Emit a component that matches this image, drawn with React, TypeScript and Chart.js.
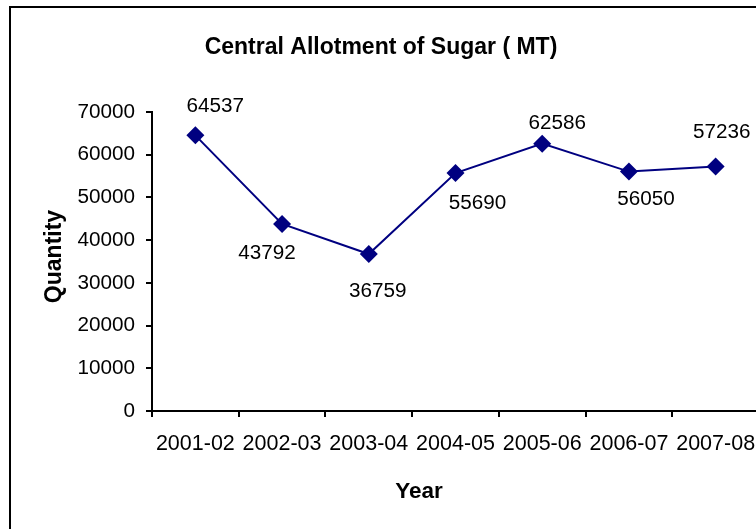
import React, { useEffect, useRef } from 'react';
import { Chart, registerables } from 'chart.js';

Chart.register(...registerables);

const categories = ['2001-02', '2002-03', '2003-04', '2004-05', '2005-06', '2006-07', '2007-08'];
const quantities = [64537, 43792, 36759, 55690, 62586, 56050, 57236];
const yMin = 0;
const yMax = 70000;
const yStep = 10000;
const chartTitle = 'Central Allotment of Sugar ( MT)';
const xTitle = 'Year';
const yTitle = 'Quantity';
// label placement offsets (pixels from the point)
const labelDx = [20, -15, 9, 22, 15, 17, 6];
const labelDy = [-31, 28, 36, 28.5, -22, 26, -36];

const FONT = '"Liberation Sans", Arial, sans-serif';
const NAVY = '#000080';
const NUM_SIZE = 20.7;

const textPlugin = {
  id: 'texts',
  afterDraw(chart: any) {
    const ctx = chart.ctx;
    ctx.save();
    ctx.fillStyle = '#000';
    ctx.textAlign = 'center';
    ctx.textBaseline = 'alphabetic';
    ctx.font = `bold 23px ${FONT}`;
    ctx.fillText(chartTitle, 381, 54);
    ctx.font = `bold 22.5px ${FONT}`;
    ctx.fillText(xTitle, 419, 498);
    ctx.save();
    ctx.font = `bold 23px ${FONT}`;
    ctx.translate(60.5, 256.5);
    ctx.rotate(-Math.PI / 2);
    ctx.fillText(yTitle, 0, 0);
    ctx.restore();
    ctx.font = `${NUM_SIZE}px ${FONT}`;
    const meta = chart.getDatasetMeta(0);
    meta.data.forEach((pt: any, i: number) => {
      ctx.fillText(String(quantities[i]), pt.x + labelDx[i], pt.y + labelDy[i] + 0.358 * NUM_SIZE);
    });
    ctx.restore();
  },
};

export default function App() {
  const ref = useRef<HTMLCanvasElement | null>(null);
  useEffect(() => {
    if (!ref.current) return;
    const chart = new Chart(ref.current, {
      type: 'line',
      data: {
        labels: categories,
        datasets: [
          {
            data: quantities,
            borderColor: NAVY,
            backgroundColor: NAVY,
            borderWidth: 2,
            pointStyle: 'rectRot',
            pointRadius: 9,
            pointBackgroundColor: NAVY,
            pointBorderColor: NAVY,
            pointBorderWidth: 0,
            tension: 0,
            fill: false,
          },
        ],
      },
      options: {
        responsive: false,
        animation: false,
        layout: { padding: { left: 0, top: 112, right: 41, bottom: 89 } },
        plugins: {
          legend: { display: false },
          title: { display: false },
          tooltip: { enabled: false },
        },
        scales: {
          x: {
            type: 'category',
            offset: true,
            grid: { offset: true, drawOnChartArea: false, drawTicks: true, tickLength: 6, color: '#000', lineWidth: 2 },
            border: { display: true, color: '#000', width: 2 },
            ticks: { color: '#000', font: { size: 21.5, family: FONT }, padding: 14.5, maxRotation: 0, autoSkip: false },
            afterFit: (s: any) => { s.height = 60; },
          },
          y: {
            min: yMin,
            max: yMax,
            ticks: {
              stepSize: yStep,
              color: '#000',
              font: { size: NUM_SIZE, family: FONT },
              padding: 11,
              callback: (v: any) => String(v),
            },
            grid: { drawOnChartArea: false, drawTicks: true, tickLength: 6, color: '#000', lineWidth: 2 },
            border: { display: true, color: '#000', width: 2 },
            afterFit: (s: any) => { s.width = 152; },
          },
        },
      },
      plugins: [textPlugin],
    } as any);
    return () => chart.destroy();
  }, []);

  return (
    <div style={{ position: 'fixed', left: 0, top: 0, width: 756, height: 529, overflow: 'hidden', background: '#fff' }}>
      <canvas ref={ref} width={800} height={560} style={{ position: 'absolute', left: 0, top: 0, display: 'block' }} />
      <div style={{ position: 'absolute', left: 9, top: 6, width: 800, height: 560, border: '2px solid #000', boxSizing: 'border-box', pointerEvents: 'none' }} />
    </div>
  );
}
